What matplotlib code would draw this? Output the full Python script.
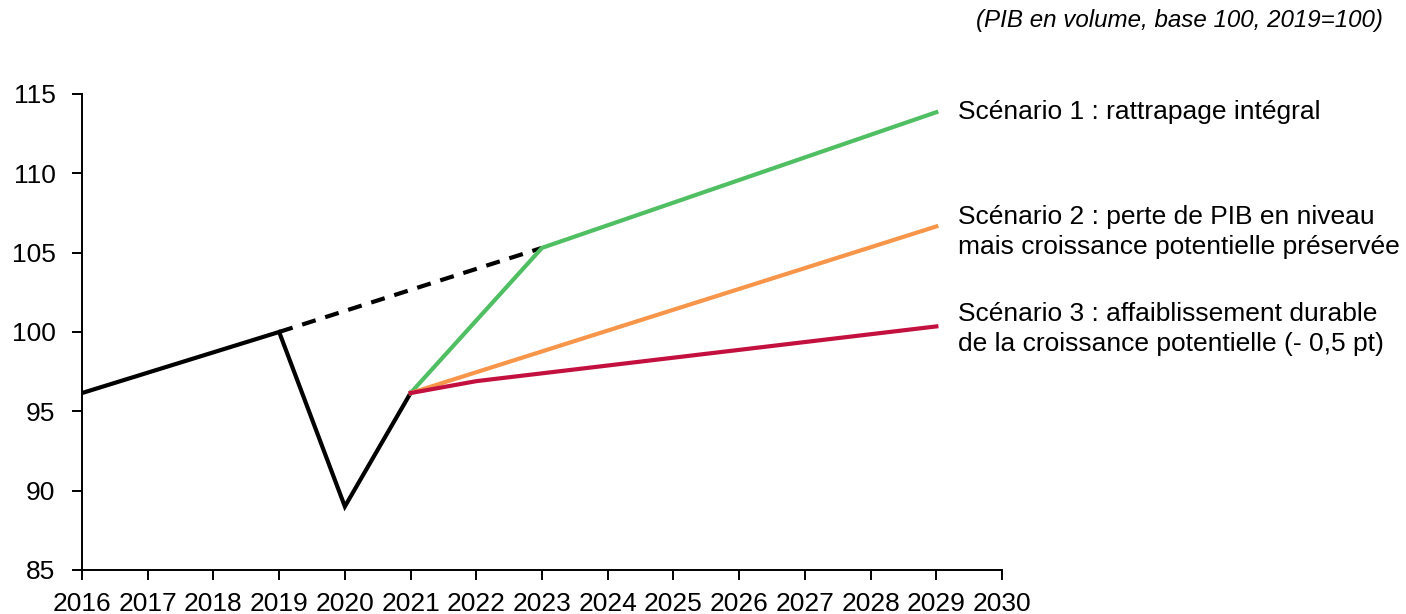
import matplotlib.pyplot as plt

plt.rcParams['font.family'] = ['Liberation Sans', 'DejaVu Sans']

# PIB en volume, base 100 en 2019
hist_years = [2016, 2019, 2020, 2021]
hist_vals = [96.15, 100.0, 89.0, 96.15]

trend_years = [2019, 2023]
trend_vals = [100.0, 105.3]

s1_years = [2021, 2023, 2029]
s1_vals = [96.15, 105.3, 113.85]

s2_years = [2021, 2029]
s2_vals = [96.15, 106.65]

s3_years = [2021, 2022, 2029]
s3_vals = [96.15, 96.9, 100.35]

labels = [
    "Scénario 1 : rattrapage intégral",
    "Scénario 2 : perte de PIB en niveau\nmais croissance potentielle préservée",
    "Scénario 3 : affaiblissement durable\nde la croissance potentielle (- 0,5 pt)",
]
label_y = [113.85, 106.3, 100.2]

green = '#50BE62'
orange = '#F7964A'
red = '#C4103F'

fig = plt.figure(figsize=(14.06, 6.14), dpi=100)
ax = fig.add_axes([0.0583, 0.0717, 0.6544, 0.7753])

lw = 3.0
ax.plot(hist_years, hist_vals, color='black', lw=lw, solid_joinstyle='miter')
ax.plot(trend_years, trend_vals, color='black', lw=lw, linestyle=(0, (3.4, 2.4)))
ax.plot(s1_years, s1_vals, color=green, lw=lw)
ax.plot(s2_years, s2_vals, color=orange, lw=lw)
ax.plot(s3_years, s3_vals, color=red, lw=lw)

ax.set_xlim(2016, 2030)
ax.set_ylim(85, 115)
ax.set_xticks(range(2016, 2031))
ax.set_yticks(range(85, 116, 5))

for side in ('top', 'right'):
    ax.spines[side].set_visible(False)
for side in ('left', 'bottom'):
    ax.spines[side].set_linewidth(1.4)
ax.tick_params(axis='both', labelsize=19, width=1.4, length=7, direction='out')
ax.tick_params(axis='x', pad=9)
ax.tick_params(axis='y', pad=12)

for txt, y in zip(labels, label_y):
    ax.text(2029.33, y, txt, fontsize=19, va='center', ha='left',
            linespacing=1.3, clip_on=False)

fig.text(0.9836, 0.966, "(PIB en volume, base 100, 2019=100)", fontsize=17.4,
         style='italic', ha='right', va='center')

fig.savefig('out.png', dpi=100)
